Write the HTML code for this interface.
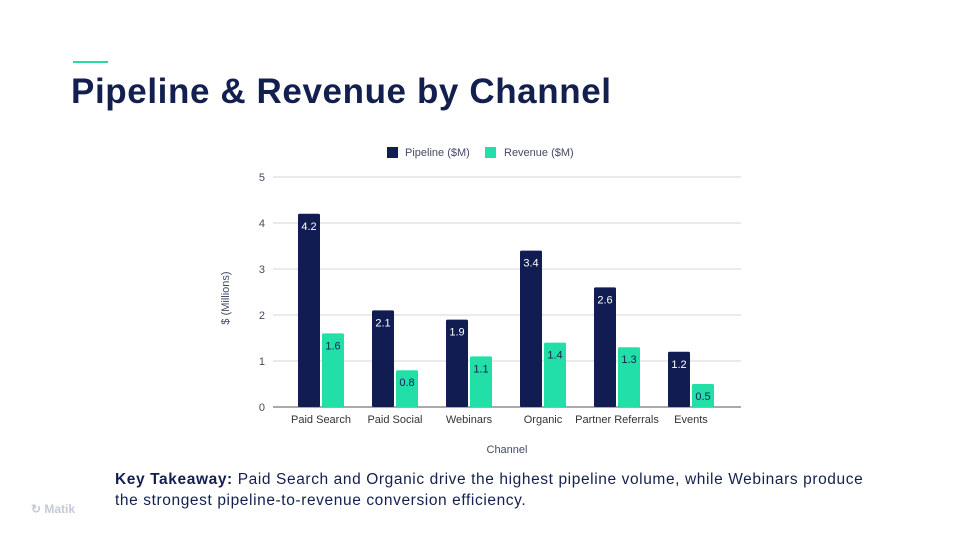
<!DOCTYPE html>
<html><head><meta charset="utf-8"><style>
body{margin:0;width:960px;height:540px;background:#fff;font-family:"Liberation Sans",sans-serif;position:relative;overflow:hidden}
.accent{position:absolute;left:73px;top:61px;width:35px;height:2px;background:#2ad8a4}
h1{position:absolute;left:71px;top:72px;margin:0;font-size:35px;font-weight:bold;color:#13204f;letter-spacing:0.6px;white-space:nowrap}
.take{position:absolute;left:115px;top:469px;font-size:15.5px;color:#13204f;line-height:21px;width:760px;letter-spacing:0.6px}
.logo{position:absolute;left:31px;top:502px;font-size:12px;color:#c5c9d6;font-weight:bold}
</style></head><body>
<div class="accent"></div>
<h1>Pipeline &amp; Revenue by Channel</h1>
<svg id="chart" width="960" height="540" style="position:absolute;left:0;top:0" font-family="Liberation Sans, sans-serif"></svg>
<div class="take"><b>Key Takeaway:</b> Paid Search and Organic drive the highest pipeline volume, while Webinars produce the strongest pipeline-to-revenue conversion efficiency.</div>
<div class="logo">&#x21BB; Matik</div>
<script>
const categories=["Paid Search","Paid Social","Webinars","Organic","Partner Referrals","Events"];
const pipeline=[4.2,2.1,1.9,3.4,2.6,1.2];
const revenue=[1.6,0.8,1.1,1.4,1.3,0.5];
const yTicks=[0,1,2,3,4,5];
const svg=document.getElementById('chart');
const NS='http://www.w3.org/2000/svg';
const y0=407,yTop=177,yMax=5,bandStart=284,band=74;
const y=v=>y0-(v/yMax)*(y0-yTop);
const xc=i=>bandStart+band*i+band/2;
function mk(t,a,txt){const e=document.createElementNS(NS,t);for(const k in a)e.setAttribute(k,a[k]);if(txt!==undefined)e.textContent=txt;svg.appendChild(e);return e;}
yTicks.forEach(t=>{
 const l=mk('line',{x1:273,x2:741,y1:y(t),y2:y(t),stroke:t===0?'#555':'#e3e3e3','stroke-width':t===0?1:1.5});
 
 
 const tx=mk('text',{x:265,y:y(t)+4,'text-anchor':'end','font-size':11,fill:'#444a66'},t);
 
 
});
const yt=mk('text',{x:0,y:0,transform:'translate(229,298) rotate(-90)','text-anchor':'middle','font-size':11,fill:'#444a66'},'$ (Millions)');


const xt=mk('text',{x:507,y:453,'text-anchor':'middle','font-size':11,fill:'#444a66'},'Channel');


function bar(x,v,col,txtCol,name){
 const r=mk('rect',{x:x,y:y(v),width:22,height:y0-y(v),fill:col,rx:1.5});
 
 
 const t=mk('text',{x:x+11,y:y(v)+16,'text-anchor':'middle','font-size':11,fill:txtCol},v.toFixed(1));
 
 
}
categories.forEach((c,i)=>{
 const cx=xc(i);
 bar(cx-23,pipeline[i],'#111d52','#fff','bar-pipeline-'+i);
 bar(cx+1,revenue[i],'#22dfa8','#13204f','bar-revenue-'+i);
 const t=mk('text',{x:cx,y:423,'text-anchor':'middle','font-size':11,fill:'#333'},c);
 
 
});
const l1=mk('rect',{x:387,y:147,width:11,height:11,fill:'#111d52'});


const l1t=mk('text',{x:405,y:156,'font-size':11,fill:'#444a66'},'Pipeline ($M)');


const l2=mk('rect',{x:485,y:147,width:11,height:11,fill:'#22dfa8'});


const l2t=mk('text',{x:504,y:156,'font-size':11,fill:'#444a66'},'Revenue ($M)');


</script>
</body></html>
